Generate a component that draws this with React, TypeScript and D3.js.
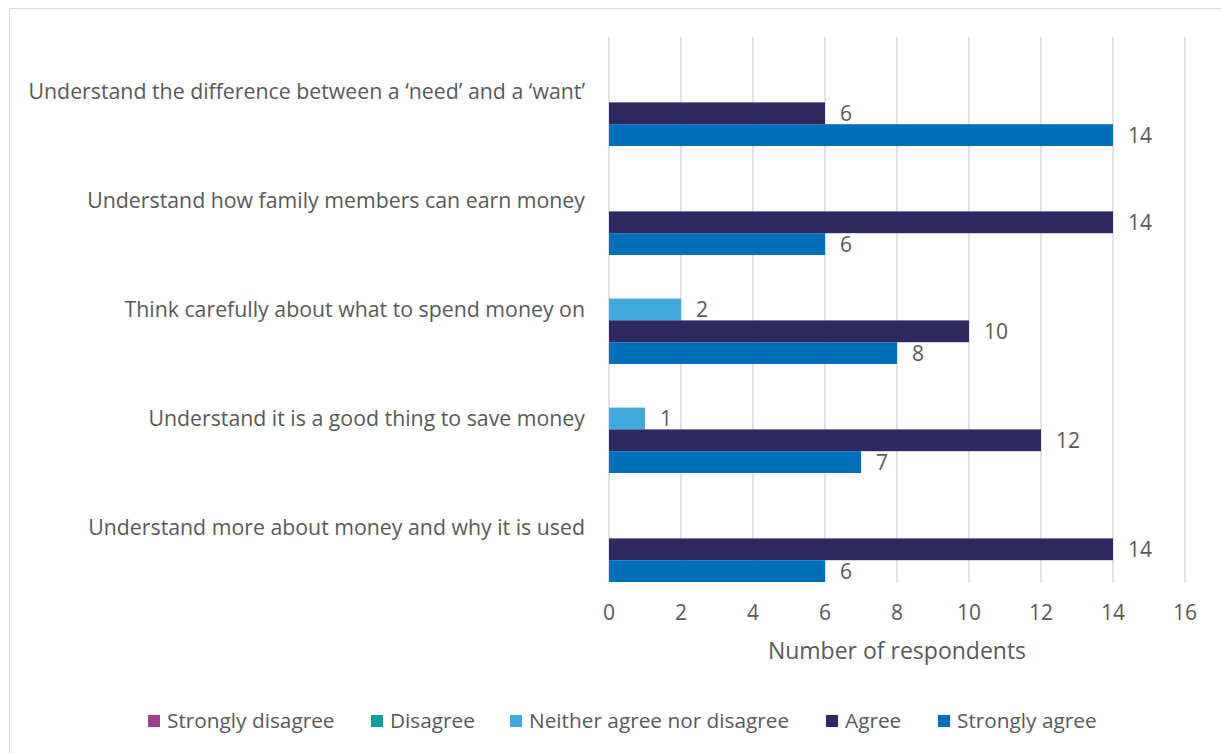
import React from "react";
import * as d3 from "d3";

const categories = [
  "Understand the difference between a \u2018need\u2019 and a \u2018want\u2019",
  "Understand how family members can earn money",
  "Think carefully about what to spend money on",
  "Understand it is a good thing to save money",
  "Understand more about money and why it is used",
];
const seriesNames = ["Strongly disagree", "Disagree", "Neither agree nor disagree", "Agree", "Strongly agree"];
const seriesColors = ["#a0418f", "#109e98", "#41a8de", "#2e2a5f", "#006fba"];
const stronglyDisagree = [0, 0, 0, 0, 0];
const disagree = [0, 0, 0, 0, 0];
const neither = [0, 0, 2, 1, 0];
const agree = [6, 14, 10, 12, 14];
const stronglyAgree = [14, 6, 8, 7, 6];
const xTicks = [0, 2, 4, 6, 8, 10, 12, 14, 16];
const legendX = [148, 371, 510, 826, 938];

const W = 1221;
const H = 753;
const FONT = "'Open Sans', 'DejaVu Sans', sans-serif";
const TEXT = "#595959";

export default function App() {
  const allSeries = [stronglyDisagree, disagree, neither, agree, stronglyAgree];
  const x = d3.scaleLinear().domain([0, 16]).range([609, 1185]);
  const y = d3.scaleBand<string>().domain(categories).range([37, 582]).paddingInner(0).paddingOuter(0);
  const inner = d3
    .scaleBand<number>()
    .domain(d3.range(seriesNames.length))
    .range([0, y.bandwidth()])
    .padding(0);

  return (
    <svg
      width={W}
      height={H}
      style={{ position: "absolute", left: 0, top: 0, background: "#fff" }}
      fontFamily={FONT}
    >
      <rect x={9.5} y={8.5} width={1240} height={780} fill="#fff" stroke="#d9d9d9" strokeWidth={1} />
      {xTicks.map((t) => (
        <line key={t} x1={x(t)} x2={x(t)} y1={37} y2={582} stroke="#d9d9d9" strokeWidth={1.5} />
      ))}
      {categories.map((c, ci) =>
        allSeries.map((s, si) =>
          s[ci] > 0 ? (
            <g key={c + si}>
              <rect
                x={x(0)}
                y={(y(c) as number) + (inner(si) as number)}
                width={x(s[ci]) - x(0)}
                height={inner.bandwidth()}
                fill={seriesColors[si]}
              />
              <text
                x={x(s[ci]) + 15}
                y={(y(c) as number) + (inner(si) as number) + inner.bandwidth() / 2}
                dy="0.36em"
                fontSize={21}
                fill={TEXT}
              >
                {s[ci]}
              </text>
            </g>
          ) : null
        )
      )}
      {categories.map((c) => (
        <text
          key={c}
          x={585}
          y={(y(c) as number) + y.bandwidth() / 2}
          dy="0.36em"
          textAnchor="end"
          fontSize={21.3}
          fill={TEXT}
        >
          {c}
        </text>
      ))}
      {xTicks.map((t) => (
        <text key={"t" + t} x={x(t)} y={612} dy="0.36em" textAnchor="middle" fontSize={21} fill={TEXT}>
          {t}
        </text>
      ))}
      <text x={897} y={651} dy="0.36em" textAnchor="middle" fontSize={23} fill={TEXT}>
        Number of respondents
      </text>
      {seriesNames.map((n, i) => (
        <g key={n}>
          <rect x={legendX[i]} y={715} width={12} height={12} fill={seriesColors[i]} />
          <text x={legendX[i] + 19} y={721} dy="0.36em" fontSize={20.8} fill={TEXT}>
            {n}
          </text>
        </g>
      ))}
    </svg>
  );
}
